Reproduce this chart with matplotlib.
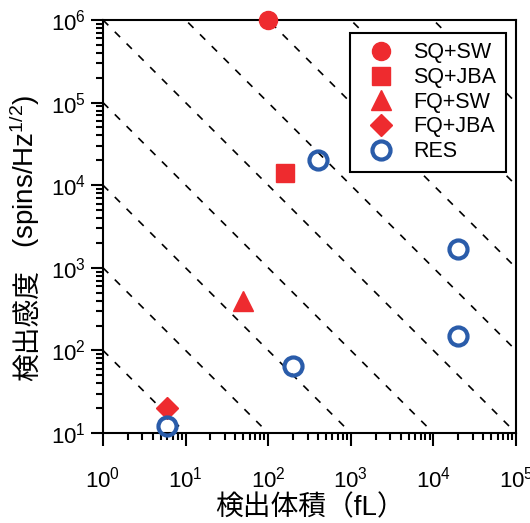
import matplotlib
matplotlib.use("Agg")
from matplotlib import pyplot as plt
import numpy as np

plt.rcParams['font.family'] = ['Liberation Sans', 'Noto Sans CJK JP']
plt.rcParams['mathtext.fontset'] = 'custom'
plt.rcParams['mathtext.rm'] = 'Liberation Sans'
plt.rcParams['mathtext.it'] = 'Liberation Sans'

# data
series_names = ['SQ+SW', 'SQ+JBA', 'FQ+SW', 'FQ+JBA', 'RES']
volume = {
    'SQ+SW': [100],
    'SQ+JBA': [160],
    'FQ+SW': [50],
    'FQ+JBA': [6],
    'RES': [6, 200, 400, 2e4, 2e4],
}
sensitivity = {
    'SQ+SW': [1e6],
    'SQ+JBA': [1.4e4],
    'FQ+SW': [400],
    'FQ+JBA': [20],
    'RES': [12, 65, 2e4, 1.7e3, 150],
}
# constant volume*sensitivity guide lines
guide_products = [1e2, 1e3, 1e4, 1e5, 1e6, 1e7, 1e8, 1e9, 1e10]

red = '#ee2b2f'
blue = '#2a5caa'
styles = {
    'SQ+SW': dict(marker='o', ms=13, color=red, mec=red),
    'SQ+JBA': dict(marker='s', ms=13, color=red, mec=red),
    'FQ+SW': dict(marker='^', ms=14, color=red, mec=red),
    'FQ+JBA': dict(marker='D', ms=11, color=red, mec=red),
    'RES': dict(marker='o', ms=13, mfc='none', mec=blue, mew=3),
}

fig = plt.figure(figsize=(5.30, 5.23), dpi=100)
ax = fig.add_axes([103/530, 1-433/523, 413/530, 413/523])

xx = np.logspace(0, 5, 200)
for c in guide_products:
    ax.plot(xx, c/xx, color='black', lw=1.2, dashes=(4.5, 5.5), zorder=1)

for name in series_names:
    ax.plot(volume[name], sensitivity[name], ls='none', label=name,
            clip_on=False, zorder=3, **styles[name])

ax.set_xscale('log')
ax.set_yscale('log')
ax.set_xlim(1, 1e5)
ax.set_ylim(10, 1e6)

for s in ax.spines.values():
    s.set_linewidth(1.5)
ax.tick_params(which='both', direction='out', top=False, right=False,
               labelsize=16, width=1.5)
ax.tick_params(which='major', length=9)
ax.tick_params(which='minor', length=5)
ax.tick_params(axis='x', pad=15)

ax.set_xlabel('検出体積（fL）', fontsize=20, labelpad=2)

# y label: japanese part and unit part drawn separately so the kanji keep their font
fig.text(30/530, 1-381/523, '検出感度', rotation=90, ha='center', va='bottom',
         fontsize=20)
fig.text(25/530, 1-248/523, '(spins/Hz$^{1/2}$)', rotation=90, ha='center',
         va='bottom', fontsize=20)

leg = ax.legend(loc='upper right', bbox_to_anchor=(0.976, 0.969), fontsize=15.5,
                fancybox=False, framealpha=1, edgecolor='black', borderpad=0.45,
                labelspacing=0.17, handletextpad=0.5, borderaxespad=0)
leg.get_frame().set_linewidth(1.5)

plt.savefig('out.png', dpi=100)
